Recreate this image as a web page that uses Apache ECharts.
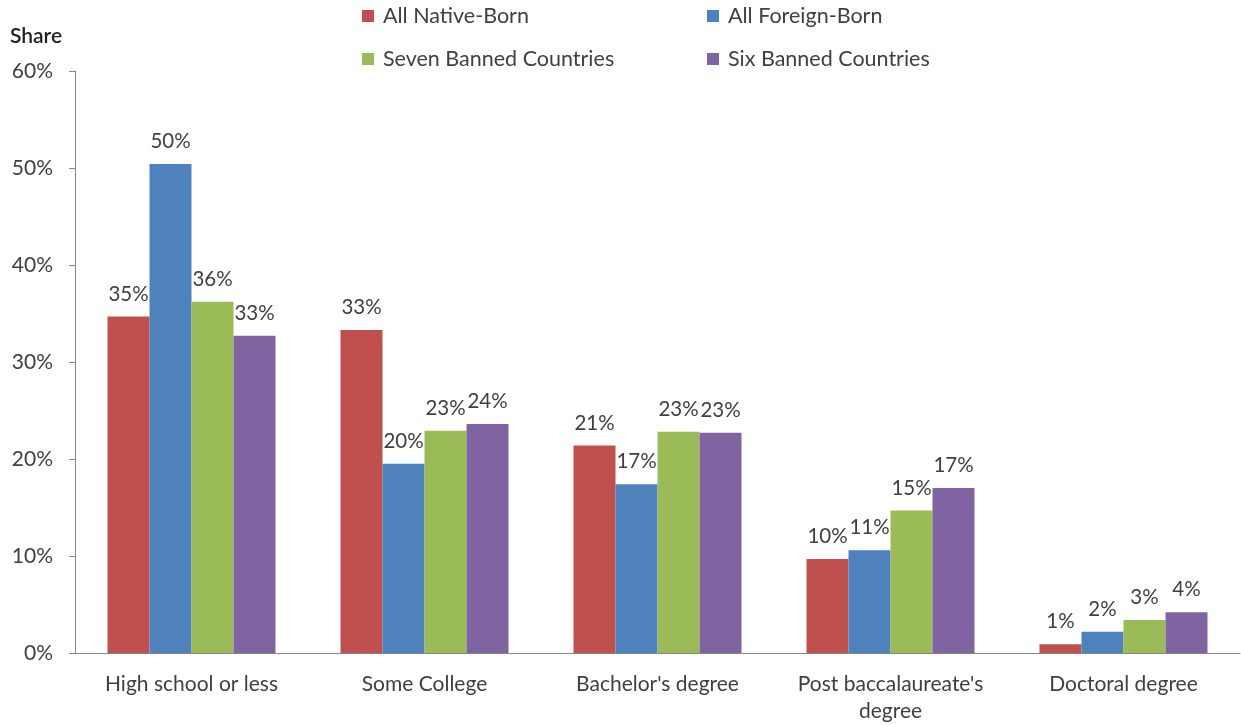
<!DOCTYPE html>
<html>
<head>
<meta charset="utf-8">
<script src="https://cdn.jsdelivr.net/npm/echarts@6/dist/echarts.min.js"></script>
<style>
  html, body { margin: 0; padding: 0; background: #fff; }
  #chart { width: 1241px; height: 725px; }
</style>
</head>
<body>
<div id="chart"></div>
<script>
// categories and series values (percent)
const categories = ['High school or less', 'Some College', "Bachelor's degree", "Post baccalaureate's\ndegree", 'Doctoral degree'];
const nativeBorn = [34.7, 33.3, 21.4, 9.7, 0.9];
const foreignBorn = [50.4, 19.5, 17.4, 10.6, 2.2];
const sevenBanned = [36.2, 22.9, 22.8, 14.7, 3.4];
const sixBanned = [32.7, 23.6, 22.7, 17.0, 4.2];
const yTicks = [0, 10, 20, 30, 40, 50, 60];

const font = 'Lato, "Open Sans", sans-serif';
const textColor = '#404040';
const axisColor = '#868686';

const chart = echarts.init(document.getElementById('chart'));

function bar(name, data, color) {
  return {
    name: name,
    type: 'bar',
    data: data,
    barWidth: 42,
    barGap: '0%',
    itemStyle: { color: color },
    label: {
      show: true,
      position: 'top',
      distance: 12,
      color: textColor,
      fontFamily: font,
      fontSize: 20.5,
      formatter: p => Math.round(p.value) + '%'
    }
  };
}

const legendText = { color: textColor, fontFamily: font, fontSize: 21.5, lineHeight: 22, padding: [0, 0, 0, 4] };

chart.setOption({
  animation: false,
  title: {
    text: 'Share',
    left: 5,
    top: 21,
    textStyle: { color: '#222', fontFamily: font, fontSize: 21, fontWeight: 600 }
  },
  legend: [
    {
      orient: 'vertical', left: 357, top: 0,
      itemWidth: 12, itemHeight: 12, itemGap: 21,
      icon: 'rect',
      data: ['All Native-Born', 'Seven Banned Countries'],
      textStyle: legendText
    },
    {
      orient: 'vertical', left: 702, top: 0,
      itemWidth: 12, itemHeight: 12, itemGap: 21,
      icon: 'rect',
      data: ['All Foreign-Born', 'Six Banned Countries'],
      textStyle: legendText
    }
  ],
  grid: { left: 75, right: 1, top: 71, bottom: 71 },
  xAxis: {
    type: 'category',
    data: categories,
    axisLine: { lineStyle: { color: axisColor } },
    axisTick: { length: 7, lineStyle: { color: axisColor } },
    axisLabel: { interval: 0, color: textColor, fontFamily: font, fontSize: 21, margin: 18, lineHeight: 27 }
  },
  yAxis: {
    type: 'value',
    min: yTicks[0],
    max: yTicks[yTicks.length - 1],
    interval: 10,
    splitLine: { show: false },
    axisLine: { show: true, lineStyle: { color: axisColor } },
    axisTick: { show: true, length: 6, lineStyle: { color: axisColor } },
    axisLabel: { color: textColor, fontFamily: font, fontSize: 21, margin: 22, formatter: '{value}%' }
  },
  series: [
    bar('All Native-Born', nativeBorn, '#C0504D'),
    bar('All Foreign-Born', foreignBorn, '#4F81BD'),
    bar('Seven Banned Countries', sevenBanned, '#9BBB59'),
    bar('Six Banned Countries', sixBanned, '#8064A2')
  ]
});
</script>
</body>
</html>
